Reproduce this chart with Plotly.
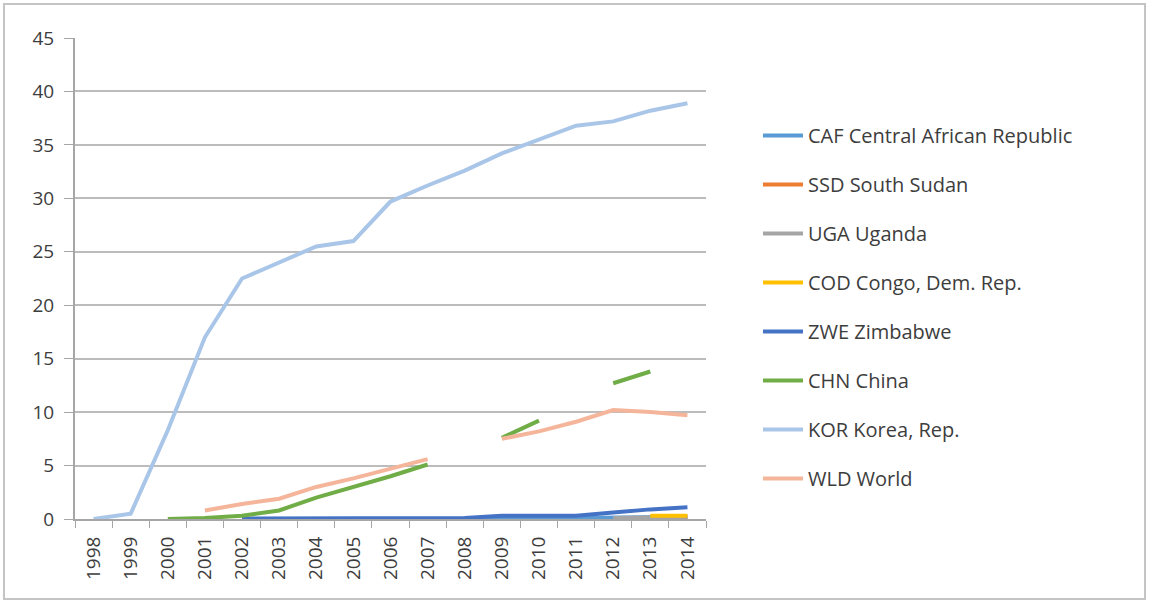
import plotly.graph_objects as go

years = [str(y) for y in range(1998, 2015)]

# Series values by year (None = no data)
caf = [None, None, None, None, None, None, None, None, None, None, 0.05, 0.1, 0.1, 0.1, 0.15, 0.2, 0.2]
ssd = [None, None, None, None, None, None, None, None, None, None, None, None, None, None, None, 0.1, 0.1]
uga = [None, None, None, None, None, None, None, None, None, None, None, None, None, None, 0.1, 0.15, 0.2]
cod = [None, None, None, None, None, None, None, None, None, None, None, None, None, None, None, 0.3, 0.3]
zwe = [None, None, None, None, 0.05, 0.05, 0.05, 0.1, 0.1, 0.1, 0.1, 0.3, 0.3, 0.3, 0.6, 0.9, 1.1]
chn = [None, None, 0.0, 0.1, 0.3, 0.8, 2.0, 3.0, 4.0, 5.1, None, 7.6, 9.2, None, 12.7, 13.8, None]
kor = [0.0, 0.5, 8.3, 17.0, 22.5, 24.0, 25.5, 26.0, 29.7, 31.2, 32.6, 34.2, 35.5, 36.8, 37.2, 38.2, 38.9]
wld = [None, None, None, 0.8, 1.4, 1.9, 3.0, 3.8, 4.7, 5.6, None, 7.5, 8.2, 9.1, 10.2, 10.0, 9.7]

series = [
    ("CAF Central African Republic", caf, "#5B9BD5"),
    ("SSD South Sudan", ssd, "#ED7D31"),
    ("UGA Uganda", uga, "#A5A5A5"),
    ("COD Congo, Dem. Rep.", cod, "#FFC000"),
    ("ZWE Zimbabwe", zwe, "#4472C4"),
    ("CHN China", chn, "#70AD47"),
    ("KOR Korea, Rep.", kor, "#A9C6E8"),
    ("WLD World", wld, "#F5B59A"),
]

y_ticks = list(range(0, 50, 5))

L, R, T, B = 75, 443, 38, 86
W, H = 1149, 605
pw, ph = W - L - R, H - T - B

fig = go.Figure()
for i, (name, vals, color) in enumerate(series):
    fig.add_trace(go.Scatter(
        x=years, y=vals, name=name, mode="lines",
        line=dict(color=color, width=4),
        connectgaps=False, legendgroup=f"g{i}",
    ))

fig.update_layout(
    width=W, height=H,
    margin=dict(l=L, r=R, t=T, b=B),
    paper_bgcolor="white", plot_bgcolor="white",
    font=dict(family="Open Sans, sans-serif", color="#3d3d3d"),
    showlegend=True,
    legend=dict(
        xref="container", yref="container",
        x=758 / W, y=1 - 116 / H,
        xanchor="left", yanchor="top",
        font=dict(size=20, color="#3d3d3d"),
        tracegroupgap=20, itemwidth=40, maxheight=560,
        bgcolor="rgba(0,0,0,0)",
    ),
    xaxis=dict(
        type="category", categoryorder="array", categoryarray=years,
        range=[-0.5, len(years) - 0.5],
        tickson="boundaries", ticks="outside", ticklen=7, tickcolor="#a6a6a6",
        tickangle=-90, tickfont=dict(size=19, color="#3d3d3d"),
        ticklabelstandoff=8,
        showline=True, linecolor="#a6a6a6", linewidth=2,
        showgrid=False, zeroline=False,
    ),
    yaxis=dict(
        range=[0, 45], tickvals=y_ticks,
        ticks="outside", ticklen=9, tickcolor="#a6a6a6",
        tickfont=dict(size=19, color="#3d3d3d"),
        ticklabelstandoff=6,
        showline=True, linecolor="#a6a6a6", linewidth=2,
        showgrid=True, gridcolor="#bcbcbc", gridwidth=2,
        zeroline=False,
    ),
    shapes=[dict(
        type="rect", xref="paper", yref="paper",
        x0=(4 - L) / pw, x1=(1145 - L) / pw, y0=-(599 - (H - B)) / ph, y1=(H - B - 4) / ph,
        line=dict(color="#c4c4c4", width=2), fillcolor="rgba(0,0,0,0)", layer="below",
    )],
)

fig.write_html("out.html")
